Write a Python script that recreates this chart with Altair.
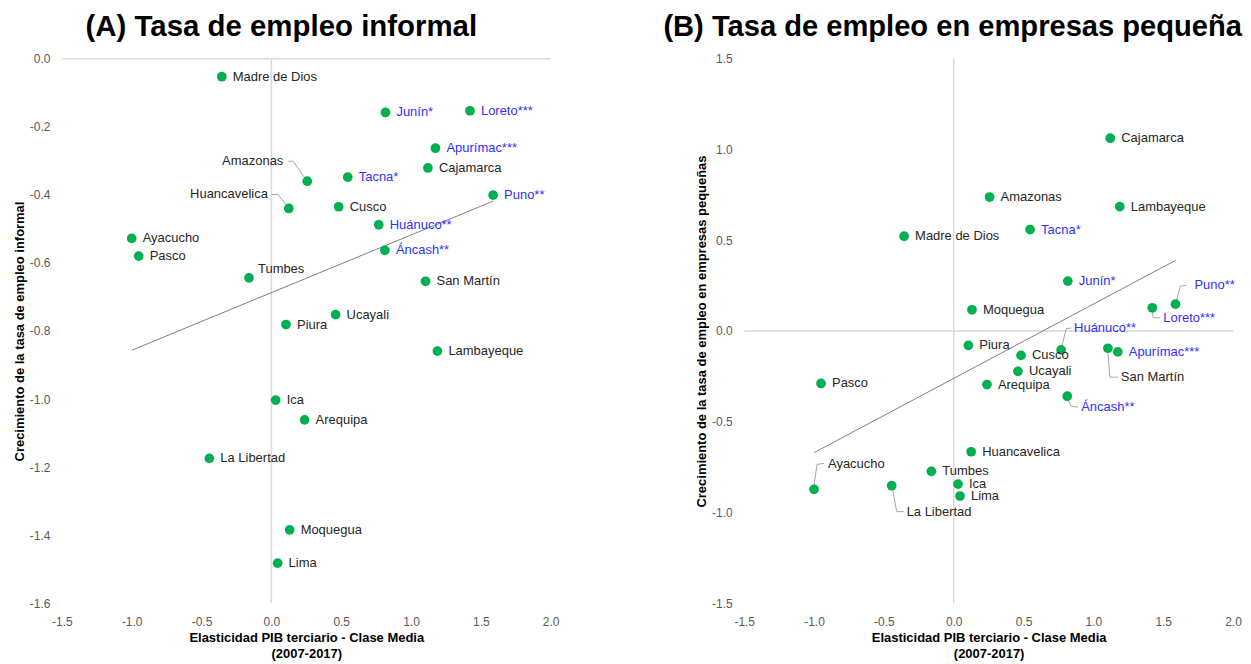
import altair as alt
import pandas as pd

FONT = "Liberation Sans"

regions = ["Madre de Dios", "Amazonas", "Huancavelica", "Ayacucho", "Pasco", "Tumbes",
           "Piura", "Junín", "Loreto", "Apurímac", "Cajamarca", "Tacna", "Puno", "Cusco",
           "Huánuco", "Áncash", "San Martín", "Ucayali", "Ica", "Arequipa", "La Libertad",
           "Moquegua", "Lima", "Lambayeque"]
stars = ["", "", "", "", "", "", "", "*", "***", "***", "", "*", "**", "",
         "**", "**", "", "", "", "", "", "", "", ""]
elasticidad = [-0.355, 0.257, 0.125, -1.0, -0.95, -0.16, 0.105, 0.817, 1.422, 1.175,
               1.121, 0.547, 1.588, 0.482, 0.769, 0.813, 1.104, 0.46, 0.031, 0.238,
               -0.444, 0.131, 0.045, 1.189]
informal = [-0.053, -0.36, -0.44, -0.528, -0.58, -0.644, -0.781, -0.158, -0.153, -0.263,
            -0.321, -0.348, -0.401, -0.435, -0.488, -0.563, -0.654, -0.752, -1.003, -1.061,
            -1.174, -1.384, -1.482, -0.859]
pequenas = [0.522, 0.738, -0.665, -0.872, -0.289, -0.773, -0.079, 0.275, 0.128, -0.115,
            1.062, 0.559, 0.148, -0.134, -0.104, -0.359, -0.095, -0.222, -0.843, -0.295,
            -0.852, 0.117, -0.909, 0.685]

x_ticks = [-1.5, -1.0, -0.5, 0.0, 0.5, 1.0, 1.5, 2.0]
yA_ticks = [-1.6, -1.4, -1.2, -1.0, -0.8, -0.6, -0.4, -0.2, 0.0]
yB_ticks = [-1.5, -1.0, -0.5, 0.0, 0.5, 1.0, 1.5]

title_A = "(A) Tasa de empleo informal"
title_B = "(B) Tasa de empleo en empresas pequeñas"
x_title = ["Elasticidad PIB terciario - Clase Media", "(2007-2017)"]
y_title_A = "Crecimiento de la tasa de empleo informal"
y_title_B = "Crecimiento de la tasa de empleo en empresas pequeñas"

df = pd.DataFrame({
    "region": regions,
    "label": [r + s for r, s in zip(regions, stars)],
    "sig": ["yes" if s else "no" for s in stars],
    "x": elasticidad,
    "yA": informal,
    "yB": pequenas,
})

# label placement (pixel offsets from the dot) and leader segments
layout_A = {
    "Amazonas": dict(align="right", dx=-24, dy=-20,
                     leader=[(-3, -4, -14, -20), (-14, -20, -19, -20)]),
    "Huancavelica": dict(align="right", dx=-21, dy=-14,
                         leader=[(-3, -4, -11, -14), (-11, -14, -17, -14)]),
    "Tumbes": dict(align="left", dx=9, dy=-9, leader=[]),
}
layout_B = {
    "Puno": dict(align="left", dx=19, dy=-19, leader=[(1, -4, 5, -18), (5, -18, 11, -19)]),
    "Loreto": dict(align="left", dx=11, dy=10, leader=[(0, 4, 1, 10), (1, 10, 8, 10)]),
    "Huánuco": dict(align="left", dx=13, dy=-22, leader=[(1, -4, 5, -21), (5, -21, 10, -22)]),
    "San Martín": dict(align="left", dx=13, dy=29, leader=[(0, 4, 2, 29), (2, 29, 10, 29)]),
    "Áncash": dict(align="left", dx=14, dy=11, leader=[(1, 4, 4, 10), (4, 10, 11, 11)]),
    "Ayacucho": dict(align="left", dx=14, dy=-25, leader=[(0, -4, 3, -25), (3, -25, 10, -26)]),
    "La Libertad": dict(align="left", dx=15, dy=26, leader=[(1, 4, 5, 26), (5, 26, 12, 26)]),
}

MINUS_FIX = "replace(format(datum.value, '.1f'), '\u2212', '-')"
DARK = "#262626"
BLUE = "#2F2FFF"
GREEN = "#00B050"
W, H = 490, 546


def panel(ycol, ydomain, yticks, title_layer, ytitle, layout):
    base = alt.Chart(df).encode(
        x=alt.X("x:Q",
                scale=alt.Scale(domain=[-1.5, 2.0], nice=False, zero=False),
                axis=alt.Axis(values=x_ticks, labelExpr=MINUS_FIX, title=x_title,
                              labelFlush=False, labelPadding=13, titlePadding=4,
                              titleLineHeight=16)),
        y=alt.Y(f"{ycol}:Q",
                scale=alt.Scale(domain=ydomain, nice=False, zero=False),
                axis=alt.Axis(values=yticks, labelExpr=MINUS_FIX, title=ytitle,
                              labelFlush=False, labelPadding=12, titlePadding=3)),
    )
    one = pd.DataFrame({"z": [0]})
    vline = alt.Chart(one).mark_rule(color="#d9d9d9", strokeWidth=1.5).encode(x=alt.X(datum=0))
    hline = alt.Chart(one).mark_rule(color="#d9d9d9", strokeWidth=1.5).encode(y=alt.Y(datum=0))
    trend = base.transform_regression("x", ycol).mark_line(color="#7f7f7f", strokeWidth=1)

    layers = [base.mark_point(opacity=0).encode(), vline, hline, trend]

    for name, spec in layout.items():
        for (a, b, c, d) in spec["leader"]:
            layers.append(
                base.transform_filter(alt.datum.region == name)
                .mark_rule(color="#a6a6a6", strokeWidth=1,
                           xOffset=a, yOffset=b, x2Offset=c, y2Offset=d)
                .encode(x2=alt.X2("x"), y2=alt.Y2(ycol))
            )

    layers.append(base.mark_circle(size=95, color=GREEN, opacity=1))

    color = alt.Color("sig:N", scale=alt.Scale(domain=["no", "yes"], range=[DARK, BLUE]),
                      legend=None)
    special = list(layout.keys())
    layers.append(
        base.transform_filter(~alt.FieldOneOfPredicate(field="region", oneOf=special))
        .mark_text(align="left", baseline="middle", dx=11, font=FONT, fontSize=13)
        .encode(text="label:N", color=color)
    )
    for name, spec in layout.items():
        layers.append(
            base.transform_filter(alt.datum.region == name)
            .mark_text(align=spec["align"], baseline="middle", dx=spec["dx"], dy=spec["dy"],
                       font=FONT, fontSize=13)
            .encode(text="label:N", color=color)
        )
    layers.append(title_layer)

    return alt.layer(*layers).properties(width=W, height=H)


one_row = pd.DataFrame({"t": [0]})
head_A = (alt.Chart(one_row)
          .mark_text(text=title_A, align="center", baseline="top", font=FONT, fontSize=29.5,
                     fontWeight="bold", color="#000000")
          .encode(x=alt.value(220), y=alt.value(-46)))
# the reference cuts this title at the right edge of the picture
head_B = (alt.Chart(one_row)
          .mark_text(text=title_B, align="left", baseline="top", font=FONT, fontSize=29.2,
                     fontWeight="bold", color="#000000", limit=585, ellipsis="\u200b")
          .encode(x=alt.value(-81), y=alt.value(-46)))

left = panel("yA", [-1.6, 0.0], yA_ticks, head_A, y_title_A, layout_A)
right = panel("yB", [-1.5, 1.5], yB_ticks, head_B, y_title_B, layout_B)

chart = (
    alt.hconcat(left, right, spacing=194, bounds="flush")
    .properties(padding={"left": 5, "top": 3, "right": 0, "bottom": 0})
    .configure_view(stroke=None)
    .configure_axis(domain=False, ticks=False, grid=False,
                    labelFont=FONT, labelFontSize=12, labelColor="#595959",
                    titleFont=FONT, titleFontSize=13, titleFontWeight="bold",
                    titleColor="#000000")
)

chart.save("out.html", embed_options={"renderer": "svg", "actions": False})
